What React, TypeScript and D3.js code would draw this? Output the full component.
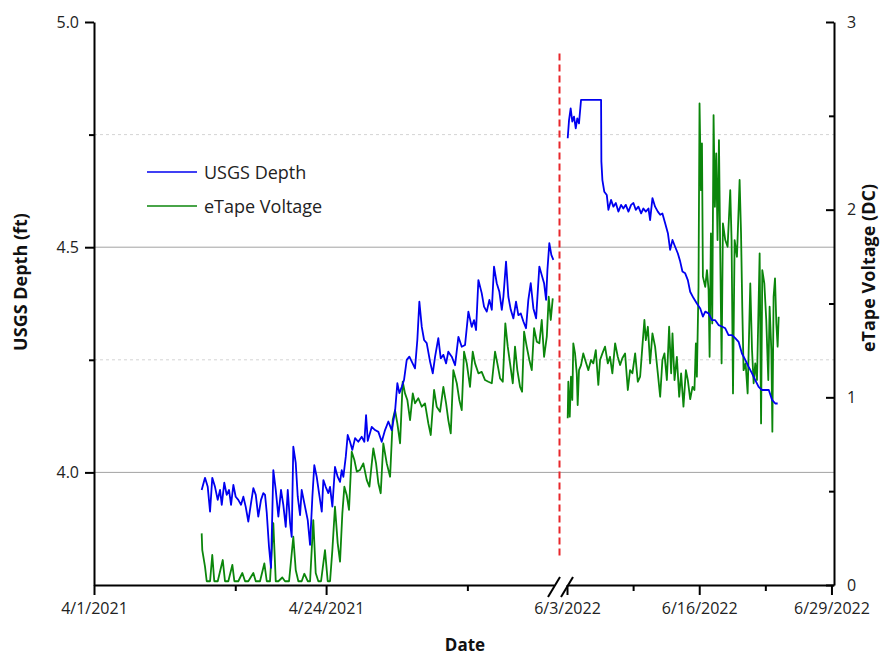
import React, { useRef, useEffect } from 'react';
import * as d3 from 'd3';

// [days since segment start, value]
const depthLeft: [number, number][] = [
  [10.67, 3.961], [11.0, 3.988], [11.27, 3.968], [11.5, 3.913], [11.72, 3.988], [11.99, 3.968], [12.26, 3.939],
  [12.49, 3.961], [12.66, 3.928], [12.91, 3.977], [13.15, 3.95], [13.38, 3.961], [13.58, 3.928], [13.81, 3.972],
  [14.04, 3.946], [14.3, 3.939], [14.57, 3.928], [14.8, 3.946], [15.03, 3.924], [15.29, 3.891], [15.56, 3.932],
  [15.79, 3.965], [16.03, 3.95], [16.28, 3.902], [16.55, 3.939], [16.78, 3.954], [16.95, 3.95], [17.12, 3.91],
  [17.34, 3.835], [17.54, 3.788], [17.77, 4.005], [18.01, 3.961], [18.27, 3.902], [18.53, 3.961], [18.76, 3.928],
  [19.0, 3.879], [19.2, 3.961], [19.43, 3.888], [19.59, 3.857], [19.75, 4.057], [19.99, 4.021], [20.19, 3.946],
  [20.42, 3.905], [20.58, 3.961], [20.91, 3.924], [21.18, 3.894], [21.41, 3.839], [21.64, 3.946], [21.83, 4.016],
  [22.07, 3.99], [22.3, 3.954], [22.57, 3.913], [22.73, 3.983], [22.96, 3.968], [23.22, 3.954], [23.39, 3.968],
  [23.62, 3.924], [23.88, 4.012], [24.15, 3.99], [24.38, 3.979], [24.55, 4.005], [24.71, 3.99], [24.95, 4.035],
  [25.14, 4.083], [25.37, 4.068], [25.6, 4.05], [25.87, 4.076], [26.19, 4.068], [26.53, 4.079], [26.79, 4.068],
  [26.96, 4.127], [27.13, 4.07], [27.52, 4.101], [27.85, 4.094], [28.18, 4.09], [28.51, 4.068], [28.84, 4.094],
  [29.17, 4.113], [29.5, 4.094], [29.83, 4.135], [30.06, 4.198], [30.26, 4.176], [30.5, 4.19], [30.72, 4.205],
  [30.99, 4.25], [31.25, 4.257], [31.49, 4.246], [31.81, 4.231], [32.04, 4.294], [32.24, 4.379], [32.48, 4.323],
  [32.71, 4.294], [32.97, 4.287], [33.3, 4.246], [33.57, 4.22], [33.8, 4.257], [34.12, 4.298], [34.36, 4.253],
  [34.62, 4.261], [34.89, 4.242], [35.11, 4.268], [35.45, 4.257], [35.78, 4.238], [36.11, 4.301], [36.44, 4.279],
  [36.77, 4.283], [37.1, 4.357], [37.43, 4.323], [37.66, 4.338], [37.86, 4.316], [38.09, 4.427], [38.42, 4.398],
  [38.65, 4.368], [38.92, 4.357], [39.18, 4.383], [39.42, 4.361], [39.64, 4.457], [39.91, 4.42], [40.17, 4.401],
  [40.41, 4.361], [40.57, 4.39], [40.83, 4.468], [41.06, 4.39], [41.3, 4.361], [41.56, 4.342], [41.82, 4.379],
  [42.05, 4.349], [42.29, 4.353], [42.55, 4.335], [42.81, 4.32], [43.04, 4.383], [43.28, 4.42], [43.54, 4.364],
  [43.81, 4.342], [44.13, 4.457], [44.37, 4.438], [44.6, 4.42], [44.8, 4.383], [44.93, 4.449], [45.12, 4.509],
  [45.32, 4.483], [45.52, 4.472],
];

const voltLeft: [number, number][] = [
  [10.67, 0.275], [10.73, 0.186], [11.0, 0.098], [11.17, 0.02], [11.5, 0.02], [11.72, 0.16], [11.92, 0.02],
  [12.26, 0.02], [12.76, 0.133], [12.98, 0.02], [13.31, 0.02], [13.71, 0.107], [13.91, 0.02], [14.3, 0.02],
  [14.7, 0.064], [14.97, 0.02], [15.29, 0.02], [15.79, 0.064], [16.03, 0.02], [16.45, 0.02], [16.88, 0.115],
  [17.12, 0.02], [17.44, 0.02], [17.77, 0.329], [18.01, 0.02], [18.27, 0.02], [18.66, 0.04], [18.93, 0.02],
  [19.33, 0.02], [19.75, 0.257], [19.99, 0.08], [20.25, 0.02], [20.58, 0.02], [20.84, 0.06], [21.18, 0.02],
  [21.41, 0.02], [21.73, 0.346], [21.97, 0.064], [22.23, 0.02], [22.5, 0.02], [22.89, 0.186], [23.16, 0.02],
  [23.39, 0.02], [23.62, 0.186], [23.88, 0.417], [24.15, 0.222], [24.38, 0.124], [24.61, 0.382], [24.81, 0.524],
  [25.04, 0.48], [25.27, 0.4], [25.54, 0.71], [25.8, 0.666], [26.04, 0.604], [26.36, 0.613], [26.69, 0.648],
  [27.03, 0.559], [27.29, 0.524], [27.68, 0.728], [27.95, 0.648], [28.18, 0.542], [28.41, 0.489], [28.67, 0.755],
  [29.01, 0.648], [29.34, 0.577], [29.6, 0.879], [29.83, 0.932], [30.06, 0.861], [30.33, 0.755], [30.59, 1.083],
  [30.82, 1.021], [31.05, 0.986], [31.32, 0.879], [31.59, 1.021], [31.81, 0.968], [32.14, 0.995], [32.48, 0.95],
  [32.8, 0.968], [33.13, 0.861], [33.37, 0.799], [33.7, 1.039], [33.96, 0.95], [34.29, 0.923], [34.62, 1.056],
  [34.89, 0.968], [35.11, 0.879], [35.35, 0.808], [35.61, 1.145], [35.95, 1.075], [36.2, 0.986], [36.44, 0.932],
  [36.67, 1.243], [36.94, 1.181], [37.26, 1.056], [37.53, 1.243], [37.76, 1.181], [38.09, 1.128], [38.42, 1.136],
  [38.75, 1.092], [39.08, 1.083], [39.42, 1.075], [39.74, 1.243], [39.97, 1.181], [40.24, 1.101], [40.51, 1.083],
  [40.76, 1.394], [41.0, 1.27], [41.23, 1.181], [41.5, 1.075], [41.72, 1.27], [41.95, 1.145], [42.22, 1.056],
  [42.42, 1.03], [42.62, 1.35], [42.88, 1.27], [43.14, 1.199], [43.38, 1.145], [43.61, 1.368], [43.88, 1.296],
  [44.13, 1.288], [44.37, 1.412], [44.6, 1.216], [44.87, 1.323], [45.06, 1.536], [45.26, 1.412], [45.46, 1.527],
];

const depthRight: [number, number][] = [
  [0.07, 4.742], [0.2, 4.782], [0.36, 4.808], [0.52, 4.779], [0.69, 4.79], [0.86, 4.764], [1.01, 4.786],
  [1.18, 4.775], [1.38, 4.827], [3.35, 4.827], [3.38, 4.69], [3.48, 4.649], [3.67, 4.623], [3.91, 4.616],
  [4.07, 4.583], [4.33, 4.605], [4.56, 4.59], [4.8, 4.598], [5.05, 4.579], [5.32, 4.594], [5.54, 4.586],
  [5.78, 4.594], [6.04, 4.579], [6.3, 4.594], [6.53, 4.598], [6.76, 4.583], [7.02, 4.59], [7.29, 4.575],
  [7.51, 4.586], [7.75, 4.579], [8.01, 4.586], [8.17, 4.56], [8.4, 4.609], [8.66, 4.59], [8.93, 4.579],
  [9.16, 4.572], [9.38, 4.575], [9.65, 4.553], [9.92, 4.531], [10.14, 4.494], [10.37, 4.516], [10.63, 4.501],
  [10.9, 4.486], [11.13, 4.468], [11.35, 4.446], [11.62, 4.442], [11.88, 4.427], [12.11, 4.401], [12.44, 4.387],
  [12.77, 4.375], [13.1, 4.364], [13.36, 4.346], [13.59, 4.357], [13.92, 4.353], [14.25, 4.338], [14.57, 4.338],
  [14.9, 4.327], [15.23, 4.324], [15.56, 4.32], [15.88, 4.305], [16.22, 4.305], [16.54, 4.298], [16.87, 4.29],
  [17.2, 4.264], [17.53, 4.25], [17.85, 4.235], [18.19, 4.22], [18.51, 4.205], [18.84, 4.19], [19.17, 4.183],
  [19.5, 4.183], [19.84, 4.183], [20.16, 4.161], [20.48, 4.153], [20.71, 4.153],
];

const voltRight: [number, number][] = [
  [0.07, 0.888], [0.13, 1.083], [0.27, 0.897], [0.39, 1.11], [0.52, 0.986], [0.62, 1.288], [0.79, 1.234],
  [0.96, 1.128], [1.05, 0.959], [1.18, 1.145], [1.38, 1.172], [1.6, 1.234], [1.84, 1.19], [2.1, 1.145],
  [2.36, 1.199], [2.59, 1.181], [2.83, 1.252], [3.08, 1.066], [3.25, 1.199], [3.48, 1.234], [3.74, 1.27],
  [4.01, 1.181], [4.23, 1.216], [4.46, 1.128], [4.73, 1.288], [4.99, 1.216], [5.22, 1.172], [5.44, 1.208],
  [5.71, 1.234], [5.98, 1.039], [6.2, 1.145], [6.43, 1.128], [6.7, 1.234], [6.96, 1.083], [7.19, 1.11],
  [7.41, 1.27], [7.61, 1.412], [7.75, 1.305], [7.95, 1.376], [8.17, 1.181], [8.4, 1.341], [8.66, 1.27],
  [8.93, 1.128], [9.16, 1.003], [9.38, 1.199], [9.58, 1.234], [9.82, 1.092], [10.04, 1.376], [10.24, 1.128],
  [10.37, 1.341], [10.57, 1.092], [10.8, 1.216], [11.03, 1.003], [11.22, 1.128], [11.45, 0.95], [11.69, 1.145],
  [11.88, 1.092], [12.11, 0.99], [12.34, 1.056], [12.53, 1.039], [12.67, 1.288], [12.77, 1.11], [12.93, 1.589],
  [13.03, 2.566], [13.17, 2.104], [13.27, 2.353], [13.36, 1.643], [13.59, 1.589], [13.76, 1.678], [13.92, 1.572],
  [14.02, 1.216], [14.15, 1.874], [14.28, 1.394], [14.41, 2.504], [14.54, 2.015], [14.67, 2.3], [14.8, 1.838],
  [14.94, 2.371], [15.07, 1.749], [15.2, 1.181], [15.33, 1.927], [15.56, 1.838], [15.79, 1.802], [16.05, 2.104],
  [16.18, 1.838], [16.32, 1.021], [16.48, 1.838], [16.71, 1.749], [16.97, 2.158], [17.11, 1.874], [17.23, 1.483],
  [17.36, 1.145], [17.56, 1.181], [17.76, 1.021], [18.02, 1.607], [18.19, 1.252], [18.35, 1.075], [18.51, 1.181],
  [18.68, 1.092], [18.94, 1.767], [19.08, 0.861], [19.2, 1.678], [19.4, 1.607], [19.59, 1.412], [19.79, 1.092],
  [19.92, 1.483], [20.09, 1.252], [20.19, 0.817], [20.31, 1.536], [20.45, 1.634], [20.58, 1.394], [20.71, 1.27],
  [20.81, 1.429],
];

const leftStart = new Date(2021, 3, 1);
const leftEnd = new Date(2021, 4, 16, 14);
const rightStart = new Date(2022, 5, 3);
const rightEnd = new Date(2022, 5, 29, 6);

const leftMajor = [new Date(2021, 3, 1), new Date(2021, 3, 24)];
const leftMinor = [new Date(2021, 3, 15), new Date(2021, 4, 8)];
const rightMajor = [new Date(2022, 5, 3), new Date(2022, 5, 16), new Date(2022, 5, 29)];
const rightMinor = [new Date(2022, 5, 9, 12), new Date(2022, 5, 22, 12)];
const depthMajor = [4.0, 4.5, 5.0];
const depthMinor = [4.25, 4.75];
const voltMajor = [0, 1, 2, 3];
const voltMinor = [0.5, 1.5, 2.5];
const markerSpan = [3.81, 4.93];

const seriesNames = ['USGS Depth', 'eTape Voltage'];
const blue = '#0000f0';
const green = '#0b860b';
const font = '"Open Sans", "Segoe UI", sans-serif';

const DAY = 864e5;
const toDate = (base: Date, d: number) => new Date(base.getTime() + d * DAY);

const App = () => {
  const svgRef = useRef<SVGSVGElement>(null);

  useEffect(() => {
    const svg = d3.select(svgRef.current);
    svg.selectAll('*').remove();

    const xL = d3.scaleTime().domain([leftStart, leftEnd]).range([94, 554]);
    const xR = d3.scaleTime().domain([rightStart, rightEnd]).range([567, 834]);
    const yL = d3.scaleLinear().domain([3.75, 5.0]).range([585, 22]);
    const yR = d3.scaleLinear().domain([0, 3]).range([585, 22]);
    const x0 = 94;
    const x1 = 834;

    // grid
    svg.append('g').selectAll('line').data(depthMajor.filter((v) => v < 5)).enter().append('line')
      .attr('x1', x0).attr('x2', x1).attr('y1', (d) => yL(d)).attr('y2', (d) => yL(d))
      .attr('stroke', '#a3a3a3').attr('stroke-width', 1);
    svg.append('g').selectAll('line').data(depthMinor).enter().append('line')
      .attr('x1', x0).attr('x2', x1).attr('y1', (d) => yL(d)).attr('y2', (d) => yL(d))
      .attr('stroke', '#d4d4d4').attr('stroke-width', 1).attr('stroke-dasharray', '3,3');

    // series
    const drawLine = (data: [number, number][], base: Date, x: any, y: any, color: string) => {
      const line = d3.line<[number, number]>()
        .x((d) => x(toDate(base, d[0])))
        .y((d) => y(d[1]));
      svg.append('path').datum(data)
        .attr('d', line).attr('fill', 'none').attr('stroke', color)
        .attr('stroke-width', 1.8).attr('stroke-linejoin', 'round');
    };
    drawLine(voltLeft, leftStart, xL, yR, green);
    drawLine(voltRight, rightStart, xR, yR, green);
    drawLine(depthLeft, leftStart, xL, yL, blue);
    drawLine(depthRight, rightStart, xR, yL, blue);

    // break marker
    const mx = (xL.range()[1] + xR.range()[0]) / 2 - 1;
    svg.append('line')
      .attr('x1', mx).attr('x2', mx).attr('y1', yL(markerSpan[1])).attr('y2', yL(markerSpan[0]))
      .attr('stroke', '#e8262b').attr('stroke-width', 2).attr('stroke-dasharray', '7,4');

    const styleAxis = (g: any) => {
      g.attr('font-family', font).attr('font-size', 16);
      g.select('.domain').attr('stroke-width', 2);
      g.selectAll('.tick line').attr('stroke-width', 2);
      g.selectAll('.tick text').attr('fill', '#222');
    };

    // left axis
    const gL = svg.append('g').attr('transform', `translate(${x0},0)`);
    gL.call(d3.axisLeft(yL).tickValues(depthMajor).tickSize(9).tickSizeOuter(0).tickPadding(6)
      .tickFormat(d3.format('.1f') as any));
    styleAxis(gL);
    const gLm = svg.append('g').attr('transform', `translate(${x0},0)`);
    gLm.call(d3.axisLeft(yL).tickValues(depthMinor).tickSize(5).tickFormat(() => ''));
    gLm.select('.domain').remove();
    gLm.selectAll('.tick line').attr('stroke-width', 2);

    // right axis
    const gR = svg.append('g').attr('transform', `translate(${x1},0)`);
    gR.call(d3.axisRight(yR).tickValues(voltMajor).tickSize(-8).tickSizeOuter(0).tickPadding(13)
      .tickFormat(d3.format('d') as any));
    styleAxis(gR);
    const gRm = svg.append('g').attr('transform', `translate(${x1},0)`);
    gRm.call(d3.axisRight(yR).tickValues(voltMinor).tickSize(-5).tickFormat(() => ''));
    gRm.select('.domain').remove();
    gRm.selectAll('.tick line').attr('stroke-width', 2);

    // bottom axes (broken)
    const fmt = d3.timeFormat('%-m/%-d/%Y');
    [[xL, leftMajor, leftMinor], [xR, rightMajor, rightMinor]].forEach(([x, major, minor]: any) => {
      const g = svg.append('g').attr('transform', 'translate(0,585)');
      g.call(d3.axisBottom(x).tickValues(major).tickSize(10).tickSizeOuter(0).tickPadding(8)
        .tickFormat(fmt as any));
      styleAxis(g);
      const gm = svg.append('g').attr('transform', 'translate(0,585)');
      gm.call(d3.axisBottom(x).tickValues(minor).tickSize(6).tickFormat(() => ''));
      gm.select('.domain').remove();
      gm.selectAll('.tick line').attr('stroke-width', 2);
    });

    // break slashes
    svg.append('g').selectAll('line').data([xL.range()[1], xR.range()[0]]).enter().append('line')
      .attr('x1', (d) => d - 6).attr('x2', (d) => d + 6).attr('y1', 597).attr('y2', 577)
      .attr('stroke', '#000').attr('stroke-width', 2);

    // axis titles
    svg.append('text').attr('x', 465).attr('y', 651).attr('text-anchor', 'middle')
      .attr('font-family', font).attr('font-size', 17).attr('font-weight', 'bold').attr('fill', '#111')
      .text('Date');
    svg.append('text').attr('transform', 'translate(27,282) rotate(-90)').attr('text-anchor', 'middle')
      .attr('font-family', font).attr('font-size', 18).attr('font-weight', 'bold').attr('fill', '#111')
      .text('USGS Depth (ft)');
    svg.append('text').attr('transform', 'translate(875,268) rotate(-90)').attr('text-anchor', 'middle')
      .attr('font-family', font).attr('font-size', 18).attr('font-weight', 'bold').attr('fill', '#111')
      .text('eTape Voltage (DC)');

    // legend
    const legend = svg.append('g').attr('transform', 'translate(147,172)');
    [blue, green].forEach((c, i) => {
      legend.append('line').attr('x1', 0).attr('x2', 50).attr('y1', i * 34).attr('y2', i * 34)
        .attr('stroke', c).attr('stroke-width', 1.5);
      legend.append('text').attr('x', 57).attr('y', i * 34 + 7)
        .attr('font-family', font).attr('font-size', 18).attr('fill', '#222')
        .text(seriesNames[i]);
    });
  }, []);

  return (
    <svg ref={svgRef} width={884} height={658}
      style={{ position: 'absolute', left: 0, top: 0, background: '#fff' }} />
  );
};

export default App;
